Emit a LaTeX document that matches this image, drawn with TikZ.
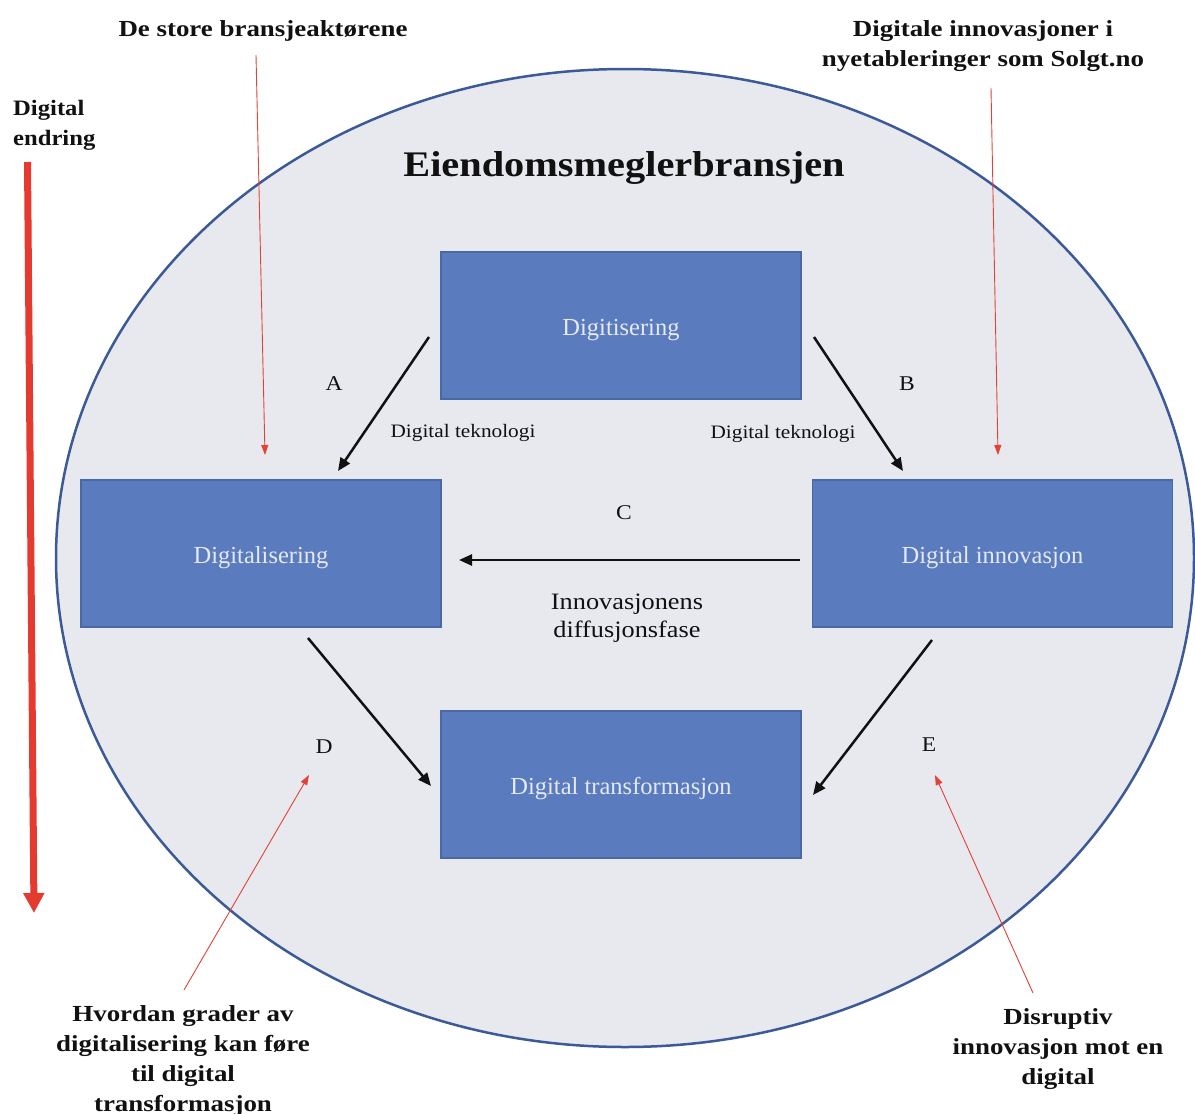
\documentclass[tikz,border=0pt]{standalone}
\usepackage{fontspec}
\setmainfont{Liberation Serif}
\newfontfamily\labfont[FakeStretch=1.12]{Liberation Serif}
\newfontfamily\widefont[FakeStretch=1.17]{Liberation Serif}
\usetikzlibrary{arrows.meta}
\definecolor{ellfill}{HTML}{E7E9EF}
\definecolor{elldraw}{HTML}{3C5A97}
\definecolor{boxfill}{HTML}{5A7BBE}
\definecolor{boxline}{HTML}{4A68A6}
\definecolor{boxtext}{HTML}{E5E9F3}
\definecolor{redthin}{HTML}{E34234}
\definecolor{redthick}{HTML}{E53A2F}
\definecolor{ink}{HTML}{111111}
\begin{document}
\begin{tikzpicture}[x=1pt,y=-1pt,
  stagebox/.style={draw=boxline, fill=boxfill, line width=1.5pt,
    minimum width=360pt, minimum height=147pt, inner sep=0pt,
    text height=22pt, text depth=3pt,
    text=boxtext, font=\fontsize{24.5}{28}\selectfont},
  boldlab/.style={font=\widefont\bfseries\fontsize{23}{30}\selectfont,
    align=center, text=ink, inner sep=0pt},
  sidelab/.style={font=\labfont\bfseries\fontsize{22}{30}\selectfont,
    align=left, text=ink, inner sep=0pt},
  smalllab/.style={font=\labfont\fontsize{19}{22}\selectfont, text=ink, inner sep=0pt},
  letterlab/.style={font=\labfont\fontsize{21}{24}\selectfont, text=ink, inner sep=0pt},
  midlab/.style={font=\labfont\fontsize{23.5}{28}\selectfont, align=center, text=ink, inner sep=0pt},
  flow/.style={draw=ink, line width=2.5pt, -{Triangle[length=13pt,width=11pt]}},
  pointer/.style={draw=redthin, line width=0.9pt, -{Triangle[length=10pt,width=7pt]}},
  bigarrow/.style={draw=redthick, line width=7pt, -{Triangle[length=20pt,width=20pt]}}
]
\useasboundingbox[fill=white] (0,0) rectangle (1195,1114);

% industry ellipse
\draw[fill=ellfill, draw=elldraw, line width=2.5pt] (625,558) ellipse [x radius=569, y radius=489];

\node[font=\labfont\bfseries\fontsize{36}{40}\selectfont, text=ink] (title) at (624,168) {Eiendomsmeglerbransjen};

% stage boxes
\node[stagebox] (digitis) at (621,325.5) {Digitisering};
\node[stagebox] (digital) at (261,553.5) {Digitalisering};
\node[stagebox] (innov) at (992.5,553.5) {Digital innovasjon};
\node[stagebox] (transf) at (621,784.5) {Digital transformasjon};

% arrow end points
\coordinate (aS) at (429,337);
\coordinate (aE) at (338,471);
\coordinate (bS) at (814,337);
\coordinate (bE) at (903,471);
\coordinate (cS) at (800,560);
\coordinate (cE) at (459,560);
\coordinate (dS) at (308,638);
\coordinate (dE) at (431,786);
\coordinate (eS) at (932,640);
\coordinate (eE) at (813,795);

\draw[flow] (aS) -- (aE);
\draw[flow] (bS) -- (bE);
\draw[flow] (cS) -- (cE);
\draw[flow] (dS) -- (dE);
\draw[flow] (eS) -- (eE);

% letters and labels
\node[letterlab] (lA) at (334,384) {A};
\node[letterlab] (lB) at (907,384) {B};
\node[letterlab] (lC) at (624,513) {C};
\node[letterlab] (lD) at (324,747) {D};
\node[letterlab] (lE) at (929,745) {E};
\node[smalllab] (tekA) at (463,433) {Digital teknologi};
\node[smalllab] (tekB) at (783,434) {Digital teknologi};
\node[midlab] (diff) at (627,618) {Innovasjonens\\diffusjonsfase};

% outer annotations
\node[boldlab] (store) at (263,31) {De store bransjeaktørene};
\node[boldlab] (nye) at (983,46) {Digitale innovasjoner i\\nyetableringer som Solgt.no};
\node[sidelab, anchor=west] (endring) at (13,125) {Digital\\endring};
\node[boldlab] (hvordan) at (183,1061) {Hvordan grader av\\digitalisering kan føre\\til digital\\transformasjon};
\node[boldlab] (disr) at (1058,1049) {Disruptiv\\innovasjon mot en\\digital};

% red pointers
\coordinate (p1s) at (256,55);
\coordinate (p1e) at (265,455);
\coordinate (p2s) at (991,88);
\coordinate (p2e) at (998,455);
\coordinate (p3s) at (184,990);
\coordinate (p3e) at (309,775);
\coordinate (p4s) at (1033,993);
\coordinate (p4e) at (935,775);
\draw[pointer] (p1s) -- (p1e);
\draw[pointer] (p2s) -- (p2e);
\draw[pointer] (p3s) -- (p3e);
\draw[pointer] (p4s) -- (p4e);

% digital change arrow
\coordinate (bigS) at (27.5,162);
\coordinate (bigE) at (34,913);
\draw[bigarrow] (bigS) -- (bigE);
\end{tikzpicture}
\end{document}
